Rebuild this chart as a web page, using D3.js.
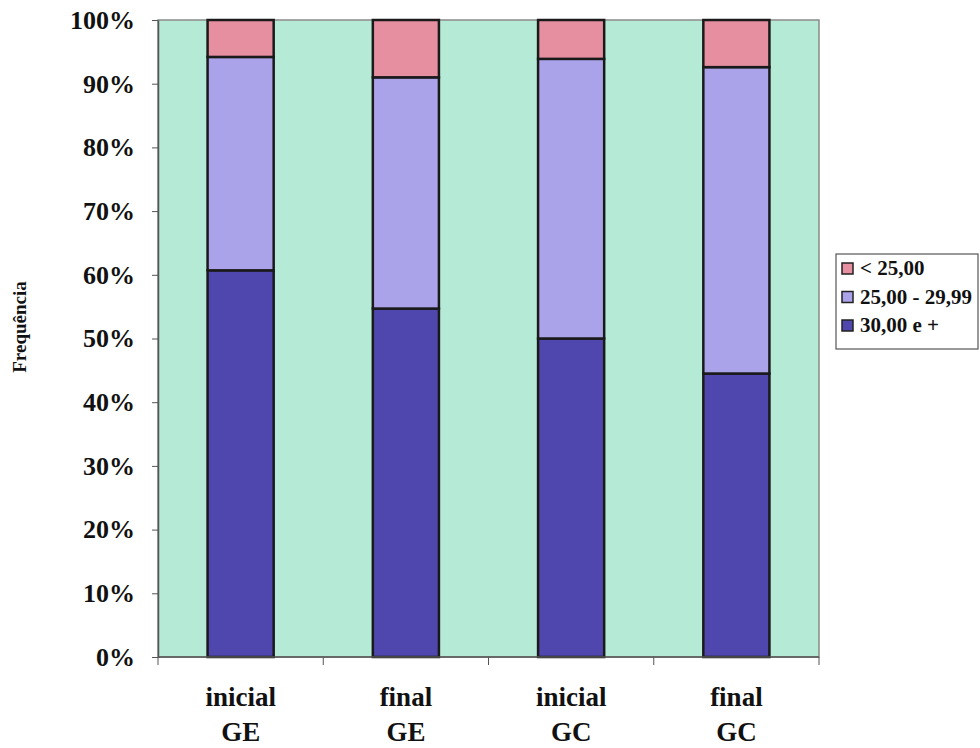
<!DOCTYPE html>
<html>
<head>
<meta charset="utf-8">
<script src="https://cdn.jsdelivr.net/npm/d3@7"></script>
<style>
  html, body { margin: 0; padding: 0; background: #ffffff; }
  svg { display: block; }
  text { font-family: "Liberation Serif", "Times New Roman", serif; font-weight: bold; fill: #111; }
</style>
</head>
<body>
<svg id="chart" width="980" height="748"></svg>
<script>
// Group / moment labels (two lines each)
const categories = ["inicial GE", "final GE", "inicial GC", "final GC"];
const categoryLines = [["inicial", "GE"], ["final", "GE"], ["inicial", "GC"], ["final", "GC"]];

// Series, bottom to top in the stack (percent of each group)
const seriesNames = ["30,00 e +", "25,00 - 29,99", "< 25,00"];
const high   = [60.7, 54.7, 50.0, 44.5];   // 30,00 e +
const middle = [33.5, 36.3, 43.9, 48.1];   // 25,00 - 29,99
const low    = [5.8, 9.0, 6.1, 7.4];       // < 25,00

const yTicks = [0, 10, 20, 30, 40, 50, 60, 70, 80, 90, 100];
const legendOrder = ["< 25,00", "25,00 - 29,99", "30,00 e +"];

const colors = {
  "30,00 e +": "#4f47ad",
  "25,00 - 29,99": "#aba3ea",
  "< 25,00": "#e68fa0"
};

const rows = categories.map((c, i) => ({
  cat: c,
  "30,00 e +": high[i],
  "25,00 - 29,99": middle[i],
  "< 25,00": low[i]
}));

const svg = d3.select("#chart");
const plot = { left: 158, top: 20, right: 819, bottom: 657 };

const x = d3.scaleBand()
  .domain(categories)
  .range([plot.left, plot.right])
  .paddingInner(0.6)
  .paddingOuter(0.3);

const y = d3.scaleLinear().domain([0, 100]).range([plot.bottom, plot.top]);

// Plot background
svg.append("rect")
  .attr("x", plot.left).attr("y", plot.top)
  .attr("width", plot.right - plot.left).attr("height", plot.bottom - plot.top)
  .attr("fill", "#b5ead6")
  .attr("stroke", "#8a8a8a")
  .attr("stroke-width", 1.5);

// Stacked bars
const stack = d3.stack().keys(seriesNames)(rows);
svg.append("g").selectAll("g")
  .data(stack)
  .join("g")
  .attr("fill", d => colors[d.key])
  .selectAll("rect")
  .data(d => d)
  .join("rect")
  .attr("x", d => x(d.data.cat))
  .attr("y", d => y(d[1]))
  .attr("width", x.bandwidth())
  .attr("height", d => y(d[0]) - y(d[1]))
  .attr("stroke", "#1a1a1a")
  .attr("stroke-width", 2.5);

// Y axis
const yAxis = d3.axisLeft(y)
  .tickValues(yTicks)
  .tickFormat(d => d + "%")
  .tickSizeInner(6)
  .tickSizeOuter(0)
  .tickPadding(17);
const gy = svg.append("g").attr("transform", `translate(${plot.left},0)`).call(yAxis);
gy.select(".domain").attr("stroke", "#555").attr("stroke-width", 1.5);
gy.selectAll(".tick line").attr("stroke", "#555");
gy.selectAll(".tick text")
  .attr("font-size", 26)
  .attr("font-family", "Liberation Serif, serif")
  .attr("font-weight", "bold")
  .attr("fill", "#111");

// X axis: ticks at category boundaries
const xBounds = d3.range(categories.length + 1).map(i => plot.left + i * (plot.right - plot.left) / categories.length);
const gx = svg.append("g");
gx.append("line")
  .attr("x1", plot.left).attr("x2", plot.right)
  .attr("y1", plot.bottom).attr("y2", plot.bottom)
  .attr("stroke", "#555").attr("stroke-width", 1.5);
gx.selectAll("line.tick")
  .data(xBounds)
  .join("line")
  .attr("class", "tick")
  .attr("x1", d => d).attr("x2", d => d)
  .attr("y1", plot.bottom).attr("y2", plot.bottom + 8)
  .attr("stroke", "#555");

// Category labels
const catLabels = svg.append("g").selectAll("text")
  .data(categories)
  .join("text")
  .attr("text-anchor", "middle")
  .attr("font-size", 27)
  .attr("transform", d => `translate(${x(d) + x.bandwidth() / 2},0)`);
catLabels.each(function(d, i) {
  const t = d3.select(this);
  categoryLines[i].forEach((line, j) => {
    t.append("tspan").attr("x", 0).attr("y", 706 + j * 35).text(line);
  });
});

// Y axis title
svg.append("text")
  .attr("transform", "translate(26,327) rotate(-90)")
  .attr("text-anchor", "middle")
  .attr("font-size", 19)
  .text("Frequência");

// Legend
const legend = svg.append("g");
legend.append("rect")
  .attr("x", 836).attr("y", 254)
  .attr("width", 142).attr("height", 95)
  .attr("fill", "#ffffff")
  .attr("stroke", "#555").attr("stroke-width", 1.2);
const items = legend.selectAll("g.item")
  .data(legendOrder)
  .join("g")
  .attr("class", "item")
  .attr("transform", (d, i) => `translate(842,${268 + i * 28.5})`);
items.append("rect")
  .attr("x", 0).attr("y", -5)
  .attr("width", 11).attr("height", 11)
  .attr("fill", d => colors[d])
  .attr("stroke", "#222").attr("stroke-width", 1.5);
items.append("text")
  .attr("x", 18).attr("y", 7)
  .attr("font-size", 21)
  .text(d => d);
</script>
</body>
</html>
